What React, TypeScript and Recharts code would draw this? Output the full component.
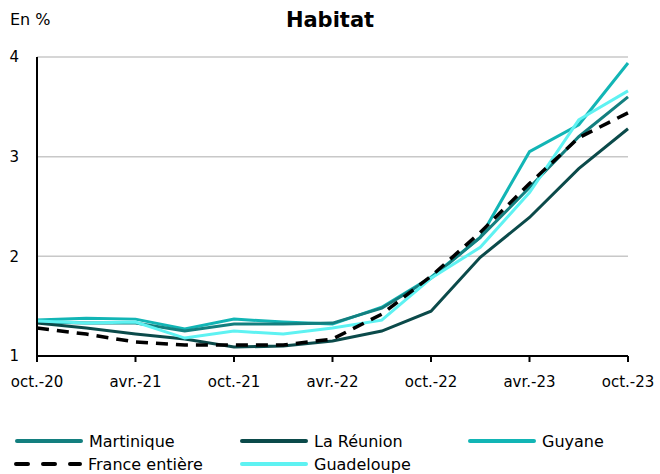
import { CartesianGrid, Line, LineChart, XAxis, YAxis } from "recharts";

const periods = [
  "oct.-20", "janv.-21", "avr.-21", "juil.-21", "oct.-21", "janv.-22", "avr.-22",
  "juil.-22", "oct.-22", "janv.-23", "avr.-23", "juil.-23", "oct.-23",
];

const martinique = [1.34, 1.33, 1.33, 1.25, 1.32, 1.32, 1.33, 1.48, 1.78, 2.19, 2.69, 3.2, 3.6];
const reunion = [1.33, 1.28, 1.22, 1.17, 1.09, 1.1, 1.15, 1.25, 1.45, 1.99, 2.39, 2.88, 3.28];
const guyane = [1.36, 1.38, 1.37, 1.27, 1.37, 1.34, 1.32, 1.49, 1.79, 2.19, 3.05, 3.32, 3.94];
const guadeloupe = [1.35, 1.33, 1.34, 1.18, 1.25, 1.22, 1.28, 1.36, 1.78, 2.09, 2.64, 3.37, 3.66];
const france = [1.28, 1.22, 1.14, 1.11, 1.11, 1.11, 1.17, 1.42, 1.8, 2.24, 2.73, 3.19, 3.44];

const yTicks = [1, 2, 3, 4];

const data = periods.map((period, i) => ({
  period,
  martinique: martinique[i],
  reunion: reunion[i],
  guyane: guyane[i],
  guadeloupe: guadeloupe[i],
  france: france[i],
}));

const FONT = "'DejaVu Sans', sans-serif";

const legendItems = [
  { label: "Martinique", color: "#137f7f", dash: false, x: 15, y: 441 },
  { label: "La Réunion", color: "#0b4a4a", dash: false, x: 240, y: 441 },
  { label: "Guyane", color: "#12b5b5", dash: false, x: 468, y: 441 },
  { label: "France entière", color: "#000", dash: true, x: 14, y: 464 },
  { label: "Guadeloupe", color: "#5ef2f2", dash: false, x: 240, y: 464 },
];

export default function App() {
  return (
    <div style={{ position: "absolute", left: 0, top: 0, width: 660, height: 474, background: "#fff", fontFamily: FONT }}>
      <div style={{ position: "absolute", left: 10, top: 10, fontSize: 16 }}>En %</div>
      <div style={{ position: "absolute", left: 0, width: 660, top: 8, textAlign: "center", fontSize: 21, fontWeight: "bold" }}>
        Habitat
      </div>
      <LineChart width={660} height={400} data={data} margin={{ top: 57, right: 32, left: 0, bottom: 0 }}>
        <CartesianGrid horizontal vertical={false} stroke="#c8c8c8" strokeWidth={1.5} />
        <XAxis
          dataKey="period"
          interval={1}
          height={44}
          stroke="#000"
          strokeWidth={2}
          tickSize={6}
          tickMargin={14}
          tick={{ fill: "#000", fontSize: 15, fontFamily: FONT }}
        />
        <YAxis
          domain={[1, 4]}
          ticks={yTicks}
          width={37}
          stroke="#000"
          strokeWidth={2}
          tickLine={false}
          tickSize={0}
          tickMargin={18}
          tick={{ fill: "#000", fontSize: 15, fontFamily: FONT }}
        />
        <Line dataKey="guyane" stroke="#12b5b5" strokeWidth={3} dot={false} isAnimationActive={false} />
        <Line dataKey="martinique" stroke="#137f7f" strokeWidth={3} dot={false} isAnimationActive={false} />
        <Line dataKey="reunion" stroke="#0b4a4a" strokeWidth={3} dot={false} isAnimationActive={false} />
        <Line dataKey="guadeloupe" stroke="#5ef2f2" strokeWidth={3} dot={false} isAnimationActive={false} />
        <Line dataKey="france" stroke="#000" strokeWidth={3.5} strokeDasharray="12 8" dot={false} isAnimationActive={false} />
      </LineChart>
      {legendItems.map((it) => (
        <div key={it.label} style={{ position: "absolute", left: it.x, top: it.y - 11, height: 22, display: "flex", alignItems: "center", fontSize: 16 }}>
          <svg width={70} height={8} style={{ marginRight: 4 }}>
            <line
              x1={2}
              x2={66}
              y1={4}
              y2={4}
              stroke={it.color}
              strokeWidth={4}
              strokeLinecap="round"
              strokeDasharray={it.dash ? "12 15" : undefined}
            />
          </svg>
          <span>{it.label}</span>
        </div>
      ))}
    </div>
  );
}
